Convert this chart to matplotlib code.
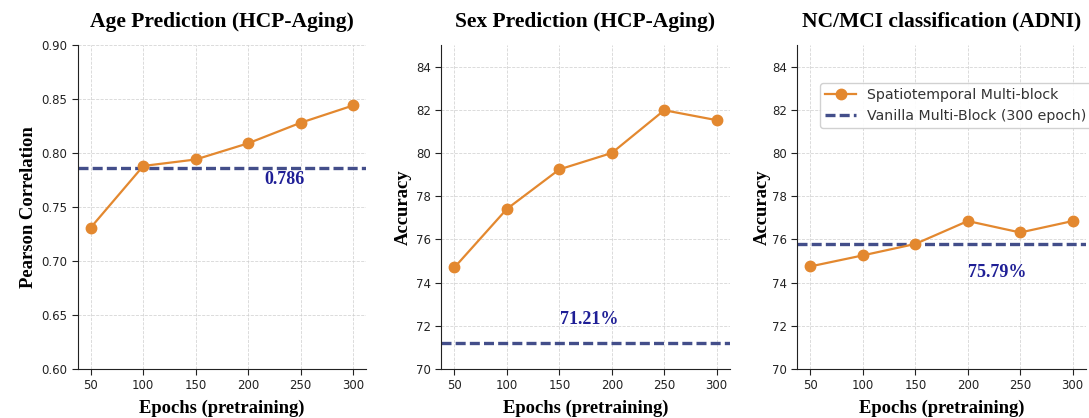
import matplotlib
matplotlib.use("Agg")
import matplotlib.pyplot as plt

epochs = [50, 100, 150, 200, 250, 300]
age_corr = [0.731, 0.788, 0.794, 0.809, 0.828, 0.844]
sex_acc = [74.7, 77.41, 79.24, 80.0, 81.98, 81.52]
mci_acc = [74.75, 75.26, 75.79, 76.85, 76.32, 76.85]
baselines = [0.786, 71.21, 75.79]
baseline_labels = ["0.786", "71.21%", "75.79%"]
titles = ["Age Prediction (HCP-Aging)", "Sex Prediction (HCP-Aging)", "NC/MCI classification (ADNI)"]
ylabels = ["Pearson Correlation", "Accuracy", "Accuracy"]
ylims = [(0.60, 0.90), (70, 85), (70, 85)]
yticks = [[0.60, 0.65, 0.70, 0.75, 0.80, 0.85, 0.90], [70, 72, 74, 76, 78, 80, 82, 84], [70, 72, 74, 76, 78, 80, 82, 84]]
label_pos = [(235, 0.775), (179, 72.3), (228, 74.45)]

series = [age_corr, sex_acc, mci_acc]
orange = "#E3882F"
navy = "#434E8A"
txtblue = "#1F1F96"
serif = ["Liberation Serif", "DejaVu Serif"]

fig = plt.figure(figsize=(10.89, 4.18), dpi=100)
W, H = 1089, 418
lefts = [77.7, 441.3, 797.3]
width = 288.5
top, bottom = 45, 369
ylabel_x = [37, 412, 771]

for i in range(3):
    ax = fig.add_axes([lefts[i] / W, 1 - bottom / H, width / W, (bottom - top) / H])
    ax.plot(epochs, series[i], color=orange, marker="o", markersize=7.5, linewidth=1.6,
            label="Spatiotemporal Multi-block", zorder=3)
    ax.axhline(baselines[i], color=navy, linestyle="--", linewidth=2.4, dashes=(3, 1.25),
               label="Vanilla Multi-Block (300 epoch)", zorder=2)
    ax.text(label_pos[i][0], label_pos[i][1], baseline_labels[i], color=txtblue,
            fontsize=13, fontweight="bold", family=serif, ha="center", va="center")
    ax.set_xlim(37.5, 312.5)
    ax.set_ylim(*ylims[i])
    ax.set_xticks(epochs)
    ax.set_yticks(yticks[i])
    if i == 0:
        ax.set_yticklabels([f"{v:.2f}" for v in yticks[i]])
    ax.tick_params(labelsize=8.5, length=4, width=0.8, colors="#222222")
    ax.grid(True, linestyle="--", linewidth=0.6, color="#cccccc", alpha=0.8)
    for s in ["top", "right"]:
        ax.spines[s].set_visible(False)
    for s in ["left", "bottom"]:
        ax.spines[s].set_color("#222222")
    ax.set_title(titles[i], fontsize=15.5, fontweight="bold", family=serif, pad=13)
    ax.set_xlabel("Epochs (pretraining)", fontsize=13.4, fontweight="bold", family=serif, labelpad=5)
    ax.set_ylabel(ylabels[i], fontsize=13.4, fontweight="bold", family=serif)
    ax.yaxis.set_label_coords((ylabel_x[i] - lefts[i]) / width, 0.5)
    if i == 2:
        leg = ax.legend(loc="upper left", bbox_to_anchor=((820 - lefts[i]) / width, 1 - (83 - top) / (bottom - top)),
                        fontsize=10.2, frameon=True, framealpha=0.9, edgecolor="#cccccc",
                        borderpad=0.35, handlelength=2.2, borderaxespad=0)
        for t in leg.get_texts():
            t.set_color("#333333")

fig.savefig("out.png", dpi=100)
